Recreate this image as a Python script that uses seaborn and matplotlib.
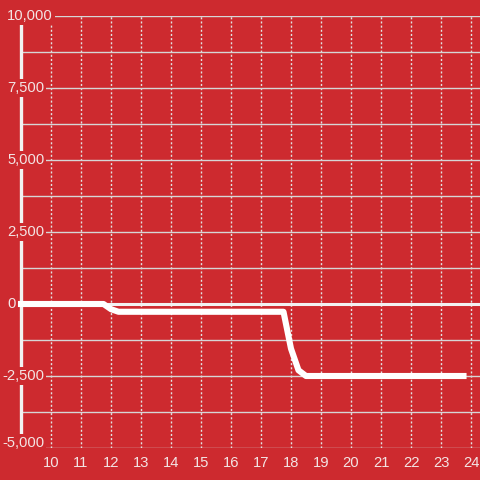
import matplotlib
matplotlib.use("Agg")
import matplotlib.pyplot as plt
import matplotlib.transforms as mtransforms
import seaborn as sns
import pandas as pd

# dane
godziny = [9.0, 11.75, 12.0, 12.25, 17.75, 18.0, 18.25, 18.5, 23.75]
wartosci = [0, 0, -180, -270, -270, -1550, -2300, -2500, -2500]
x_ticki = list(range(10, 25))
y_siatka = [-5000, -3750, -2500, -1250, 0, 1250, 2500, 3750, 5000, 6250, 7500, 8750, 10000]
y_etykiety = {10000: "10,000", 7500: "7,500", 5000: "5,000", 2500: "2,500",
              0: "0", -2500: "-2,500", -5000: "-5,000"}

tlo = "#CD2A2F"
jasny = "#F3E4E4"

sns.set_style("white")
plt.rcParams["font.family"] = ["Liberation Sans", "DejaVu Sans"]

df = pd.DataFrame({"h": godziny, "v": wartosci})

fig = plt.figure(figsize=(4.8, 4.8), dpi=100, facecolor=tlo)
ax = fig.add_axes([21 / 480, 32 / 480, 459 / 480, 432 / 480])
ax.set_facecolor(tlo)

ax.set_xlim(9.0, 24.3)
ax.set_ylim(-5000, 10000)
ax.set_xticks(x_ticki)
ax.set_yticks(y_siatka)
ax.set_yticklabels([])
ax.tick_params(axis="both", length=0)
ax.tick_params(axis="x", colors=jasny, labelsize=10.6, pad=6)

ax.grid(axis="y", color="#D6D6D6", lw=1, linestyle="-")
ax.grid(axis="x", color="#E2E2E2", lw=1, linestyle=(0, (1.5, 1.5)))
ax.set_axisbelow(True)

for s in ["top", "right", "bottom"]:
    ax.spines[s].set_visible(False)
ax.spines["left"].set_color("#F2F2F2")
ax.spines["left"].set_linewidth(2.4)
ax.spines["left"].set_zorder(3)

ax.axhline(0, color="#F2F2F2", lw=2.2, zorder=2)

sns.lineplot(data=df, x="h", y="v", ax=ax, color="white", lw=4.4,
             solid_capstyle="projecting", solid_joinstyle="round", zorder=4,
             clip_on=False)
ax.set_xlabel("")
ax.set_ylabel("")

trans = ax.get_yaxis_transform()
for val, lab in y_etykiety.items():
    px = 2 if lab.startswith("-") else 7
    tr = trans
    if val == -5000:
        # dolna etykieta lekko podniesiona
        tr = trans + mtransforms.ScaledTranslation(0, 5 / 100, fig.dpi_scale_trans)
    ax.text((px - 21) / 459, val, lab, transform=tr, ha="left", va="center",
            color=jasny, fontsize=10.6, clip_on=False, zorder=6,
            bbox=dict(boxstyle="square,pad=0.12", fc=tlo, ec="none"))

fig.savefig("out.png", dpi=100, facecolor=tlo)
